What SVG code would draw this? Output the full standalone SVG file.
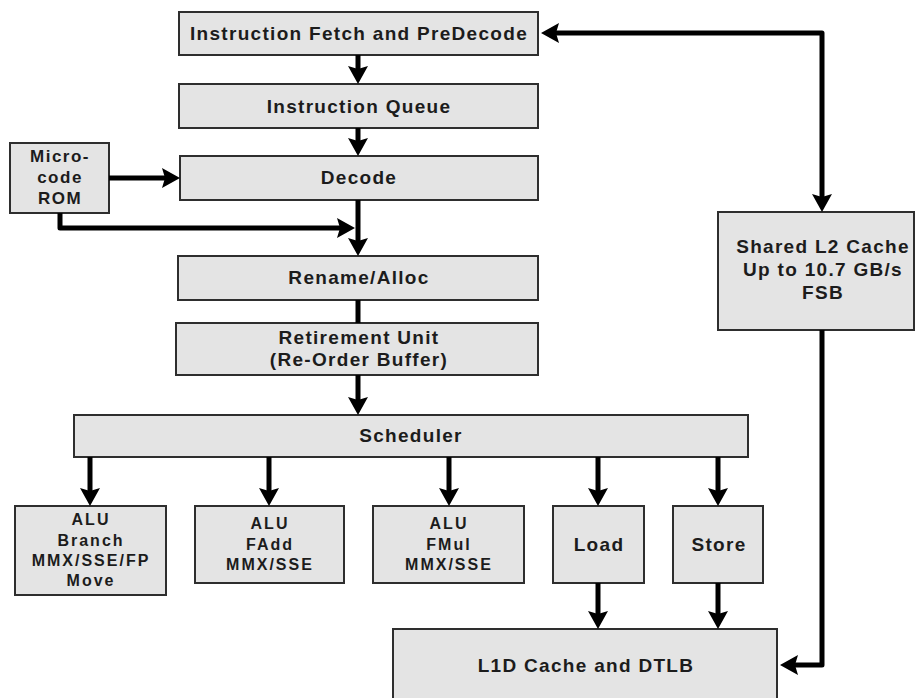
<svg xmlns="http://www.w3.org/2000/svg" width="917" height="698" viewBox="0 0 917 698">
  <style>
    .box { fill: #e4e4e4; stroke: #2e2e2e; stroke-width: 2; }
    .t { font-family: "Liberation Sans", Arial, sans-serif; font-weight: bold; font-size: 19px; letter-spacing: 1.3px; text-anchor: middle; fill: #1c1c1c; }
    .s { font-family: "Liberation Sans", Arial, sans-serif; font-weight: bold; font-size: 16px; letter-spacing: 2px; text-anchor: middle; fill: #1c1c1c; }
    .m { font-family: "Liberation Sans", Arial, sans-serif; font-weight: bold; font-size: 17px; letter-spacing: 1.5px; text-anchor: middle; fill: #1c1c1c; }
    .wire { fill: none; stroke: #000000; stroke-width: 5; stroke-linejoin: round; }
  </style>
  <defs>
    <marker id="head" viewBox="0 0 18 20" refX="6" refY="10" markerWidth="18" markerHeight="20" markerUnits="userSpaceOnUse" orient="auto-start-reverse">
      <path d="M0,0 L18,10 L0,20 L3,10 Z" fill="#000000"/>
    </marker>
  </defs>

  <rect width="917" height="698" fill="#ffffff"/>

  <!-- front end -->
  <g id="fetch">
    <rect class="box" x="179" y="12" width="359" height="43"/>
    <text class="t" x="359" y="40">Instruction Fetch and PreDecode</text>
  </g>
  <g id="queue">
    <rect class="box" x="179" y="84" width="359" height="44"/>
    <text class="t" x="359" y="113">Instruction Queue</text>
  </g>
  <g id="decode">
    <rect class="box" x="180" y="156" width="358" height="44"/>
    <text class="t" x="359" y="184">Decode</text>
  </g>
  <g id="microcode-rom">
    <rect class="box" x="10" y="143" width="99" height="70"/>
    <text class="m" x="60" y="162">Micro-</text>
    <text class="m" x="60" y="183">code</text>
    <text class="m" x="60" y="204">ROM</text>
  </g>
  <g id="rename">
    <rect class="box" x="178" y="256" width="360" height="44"/>
    <text class="t" x="359" y="284">Rename/Alloc</text>
  </g>
  <g id="retirement">
    <rect class="box" x="176" y="323" width="362" height="52"/>
    <text class="t" x="359" y="344">Retirement Unit</text>
    <text class="t" x="359" y="366">(Re-Order Buffer)</text>
  </g>
  <g id="scheduler">
    <rect class="box" x="74" y="415" width="674" height="42"/>
    <text class="t" x="411" y="442">Scheduler</text>
  </g>

  <!-- execution units -->
  <g id="alu-branch">
    <rect class="box" x="15" y="506" width="151" height="89"/>
    <text class="s" x="91" y="525">ALU</text>
    <text class="s" x="91" y="546">Branch</text>
    <text class="s" x="91" y="566">MMX/SSE/FP</text>
    <text class="s" x="91" y="586">Move</text>
  </g>
  <g id="alu-fadd">
    <rect class="box" x="195" y="506" width="149" height="77"/>
    <text class="s" x="270" y="529">ALU</text>
    <text class="s" x="270" y="550">FAdd</text>
    <text class="s" x="270" y="570">MMX/SSE</text>
  </g>
  <g id="alu-fmul">
    <rect class="box" x="373" y="506" width="151" height="77"/>
    <text class="s" x="449" y="529">ALU</text>
    <text class="s" x="449" y="550">FMul</text>
    <text class="s" x="449" y="570">MMX/SSE</text>
  </g>
  <g id="load">
    <rect class="box" x="553" y="506" width="91" height="77"/>
    <text class="t" x="599" y="551">Load</text>
  </g>
  <g id="store">
    <rect class="box" x="673" y="506" width="90" height="77"/>
    <text class="t" x="719" y="551">Store</text>
  </g>

  <!-- memory -->
  <g id="l1d">
    <rect class="box" x="393" y="629" width="384" height="80"/>
    <text class="t" x="586" y="672">L1D Cache and DTLB</text>
  </g>
  <g id="l2">
    <rect class="box" x="718" y="212" width="196" height="118"/>
    <text class="t" x="823" y="253">Shared L2 Cache</text>
    <text class="t" x="823" y="276">Up to 10.7 GB/s</text>
    <text class="t" x="823" y="299">FSB</text>
  </g>

  <!-- connectors -->
  <g id="connectors">
    <path class="wire" d="M358,55 V72" marker-end="url(#head)"/>
    <path class="wire" d="M358,128 V144" marker-end="url(#head)"/>
    <path class="wire" d="M358,200 V244" marker-end="url(#head)"/>
    <path class="wire" d="M109,178 H168" marker-end="url(#head)"/>
    <path class="wire" d="M60,213 V228 H343" marker-end="url(#head)"/>
    <path class="wire" d="M358,300 V323"/>
    <path class="wire" d="M358,375 V403" marker-end="url(#head)"/>
    <path class="wire" d="M90,457 V494" marker-end="url(#head)"/>
    <path class="wire" d="M269,457 V494" marker-end="url(#head)"/>
    <path class="wire" d="M449,457 V494" marker-end="url(#head)"/>
    <path class="wire" d="M598,457 V494" marker-end="url(#head)"/>
    <path class="wire" d="M718,457 V494" marker-end="url(#head)"/>
    <path class="wire" d="M598,583 V617" marker-end="url(#head)"/>
    <path class="wire" d="M718,583 V617" marker-end="url(#head)"/>
    <path class="wire" d="M822,330 V665 H792" marker-end="url(#head)"/>
    <path class="wire" d="M553,33 H822 V200" marker-start="url(#head)" marker-end="url(#head)"/>
  </g>
</svg>
